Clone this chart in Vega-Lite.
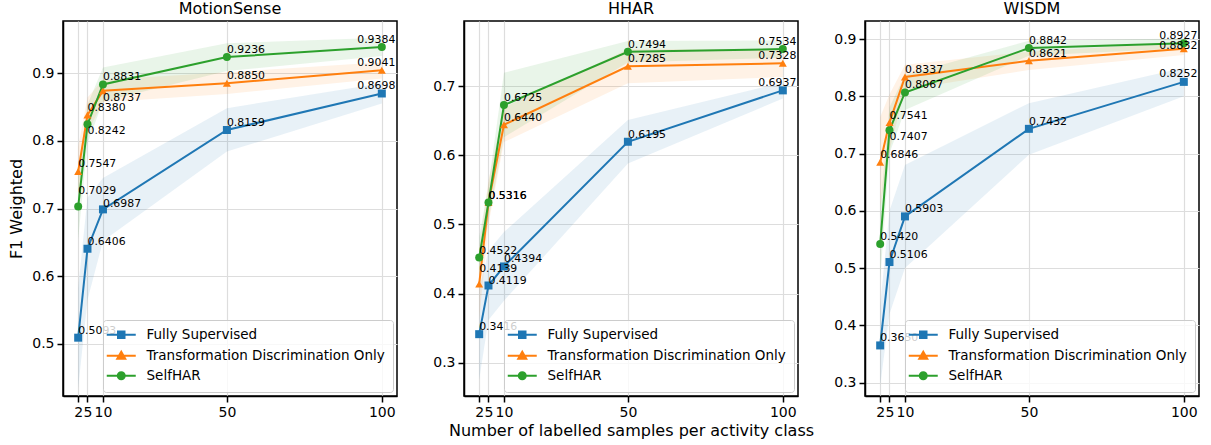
{
  "$schema": "https://vega.github.io/schema/vega-lite/v6.json",
  "padding": {"left": 7, "top": 0, "right": 5, "bottom": 5},
  "background": "white",
  "config": {
    "font": "DejaVu Sans",
    "view": {"stroke": "black", "strokeWidth": 1.5},
    "axis": {"labelFont": "DejaVu Sans", "labelFontSize": 14, "labelColor": "black", "titleFont": "DejaVu Sans", "titleFontSize": 16, "titleFontWeight": "normal", "titleColor": "black", "domainColor": "black", "domainWidth": 1.5, "tickColor": "black", "tickWidth": 1.5, "tickSize": 6, "labelPadding": 3, "gridColor": "#dddddd", "gridWidth": 1.2, "titlePadding": 7},
    "axisX": {"titlePadding": 3},
    "title": {"font": "DejaVu Sans", "fontSize": 16, "fontWeight": "normal", "color": "black", "offset": 4},
    "legend": {"orient": "bottom-right", "offset": 4, "padding": 8, "fillColor": "rgba(255,255,255,0.8)", "strokeColor": "#cccccc", "cornerRadius": 3, "labelFontSize": 13.5, "labelFont": "DejaVu Sans", "labelColor": "black", "labelOffset": 18.5, "symbolOffset": 3.5, "symbolSize": 100, "symbolStrokeWidth": 2, "rowPadding": 5, "labelLimit": 400}
  },
  "data": {"values": [
    {"ds":"MotionSense","series":"Fully Supervised","x":2,"y":0.5093,"lo":0.435,"hi":0.583},
    {"ds":"MotionSense","series":"Fully Supervised","x":5,"y":0.6406,"lo":0.565,"hi":0.716},
    {"ds":"MotionSense","series":"Fully Supervised","x":10,"y":0.6987,"lo":0.652,"hi":0.745},
    {"ds":"MotionSense","series":"Fully Supervised","x":50,"y":0.8159,"lo":0.784,"hi":0.848},
    {"ds":"MotionSense","series":"Fully Supervised","x":100,"y":0.8698,"lo":0.855,"hi":0.885},
    {"ds":"MotionSense","series":"Transformation Discrimination Only","x":2,"y":0.7547,"lo":0.718,"hi":0.791},
    {"ds":"MotionSense","series":"Transformation Discrimination Only","x":5,"y":0.8380,"lo":0.812,"hi":0.864},
    {"ds":"MotionSense","series":"Transformation Discrimination Only","x":10,"y":0.8737,"lo":0.857,"hi":0.890},
    {"ds":"MotionSense","series":"Transformation Discrimination Only","x":50,"y":0.8850,"lo":0.869,"hi":0.901},
    {"ds":"MotionSense","series":"Transformation Discrimination Only","x":100,"y":0.9041,"lo":0.892,"hi":0.916},
    {"ds":"MotionSense","series":"SelfHAR","x":2,"y":0.7029,"lo":0.655,"hi":0.751},
    {"ds":"MotionSense","series":"SelfHAR","x":5,"y":0.8242,"lo":0.796,"hi":0.853},
    {"ds":"MotionSense","series":"SelfHAR","x":10,"y":0.8831,"lo":0.858,"hi":0.908},
    {"ds":"MotionSense","series":"SelfHAR","x":50,"y":0.9236,"lo":0.903,"hi":0.944},
    {"ds":"MotionSense","series":"SelfHAR","x":100,"y":0.9384,"lo":0.925,"hi":0.952},
    {"ds":"HHAR","series":"Fully Supervised","x":2,"y":0.3416,"lo":0.276,"hi":0.407},
    {"ds":"HHAR","series":"Fully Supervised","x":5,"y":0.4119,"lo":0.362,"hi":0.462},
    {"ds":"HHAR","series":"Fully Supervised","x":10,"y":0.4394,"lo":0.390,"hi":0.489},
    {"ds":"HHAR","series":"Fully Supervised","x":50,"y":0.6195,"lo":0.588,"hi":0.651},
    {"ds":"HHAR","series":"Fully Supervised","x":100,"y":0.6937,"lo":0.682,"hi":0.705},
    {"ds":"HHAR","series":"Transformation Discrimination Only","x":2,"y":0.4139,"lo":0.362,"hi":0.466},
    {"ds":"HHAR","series":"Transformation Discrimination Only","x":5,"y":0.5316,"lo":0.500,"hi":0.563},
    {"ds":"HHAR","series":"Transformation Discrimination Only","x":10,"y":0.6440,"lo":0.619,"hi":0.669},
    {"ds":"HHAR","series":"Transformation Discrimination Only","x":50,"y":0.7285,"lo":0.704,"hi":0.753},
    {"ds":"HHAR","series":"Transformation Discrimination Only","x":100,"y":0.7328,"lo":0.713,"hi":0.753},
    {"ds":"HHAR","series":"SelfHAR","x":2,"y":0.4522,"lo":0.422,"hi":0.482},
    {"ds":"HHAR","series":"SelfHAR","x":5,"y":0.5316,"lo":0.506,"hi":0.557},
    {"ds":"HHAR","series":"SelfHAR","x":10,"y":0.6725,"lo":0.626,"hi":0.719},
    {"ds":"HHAR","series":"SelfHAR","x":50,"y":0.7494,"lo":0.734,"hi":0.765},
    {"ds":"HHAR","series":"SelfHAR","x":100,"y":0.7534,"lo":0.741,"hi":0.766},
    {"ds":"WISDM","series":"Fully Supervised","x":2,"y":0.3650,"lo":0.295,"hi":0.435},
    {"ds":"WISDM","series":"Fully Supervised","x":5,"y":0.5106,"lo":0.420,"hi":0.600},
    {"ds":"WISDM","series":"Fully Supervised","x":10,"y":0.5903,"lo":0.500,"hi":0.680},
    {"ds":"WISDM","series":"Fully Supervised","x":50,"y":0.7432,"lo":0.698,"hi":0.788},
    {"ds":"WISDM","series":"Fully Supervised","x":100,"y":0.8252,"lo":0.800,"hi":0.850},
    {"ds":"WISDM","series":"Transformation Discrimination Only","x":2,"y":0.6846,"lo":0.605,"hi":0.764},
    {"ds":"WISDM","series":"Transformation Discrimination Only","x":5,"y":0.7541,"lo":0.705,"hi":0.803},
    {"ds":"WISDM","series":"Transformation Discrimination Only","x":10,"y":0.8337,"lo":0.812,"hi":0.855},
    {"ds":"WISDM","series":"Transformation Discrimination Only","x":50,"y":0.8621,"lo":0.846,"hi":0.878},
    {"ds":"WISDM","series":"Transformation Discrimination Only","x":100,"y":0.8832,"lo":0.872,"hi":0.894},
    {"ds":"WISDM","series":"SelfHAR","x":2,"y":0.5420,"lo":0.480,"hi":0.604},
    {"ds":"WISDM","series":"SelfHAR","x":5,"y":0.7407,"lo":0.700,"hi":0.781},
    {"ds":"WISDM","series":"SelfHAR","x":10,"y":0.8067,"lo":0.776,"hi":0.837},
    {"ds":"WISDM","series":"SelfHAR","x":50,"y":0.8842,"lo":0.871,"hi":0.897},
    {"ds":"WISDM","series":"SelfHAR","x":100,"y":0.8927,"lo":0.884,"hi":0.901}
  ]},
  "bounds": "flush",
  "spacing": 67,
  "resolve": {"scale": {"x": "independent", "y": "independent", "fill": "independent", "stroke": "independent", "shape": "independent"}, "legend": {"stroke": "independent"}},
  "hconcat": [
    {
      "width": 334, "height": 375,
      "title": "MotionSense",
      "transform": [{"filter": "datum.ds === 'MotionSense'"}],
      "encoding": {
        "x": {"field": "x", "type": "quantitative", "scale": {"domain": [-2.9, 104.9], "nice": false, "zero": false}, "axis": {"values": [2, 5, 10, 50, 100], "title": null, "labelOverlap": false, "labelFlush": false, "grid": true}},
        "y": {"field": "y", "type": "quantitative", "scale": {"domain": [0.4232, 0.9768], "nice": false, "zero": false}, "axis": {"values": [0.5, 0.6, 0.7, 0.8, 0.9], "format": ".1f", "title": "F1 Weighted", "grid": true}}
      },
      "layer": [
        {"mark": {"type": "area", "opacity": 0.1, "clip": true},
         "encoding": {
           "y": {"field": "lo", "type": "quantitative", "axis": {"values": [0.5, 0.6, 0.7, 0.8, 0.9], "format": ".1f", "title": "F1 Weighted", "grid": true}},
           "y2": {"field": "hi"},
           "fill": {"field": "series", "type": "nominal", "scale": {"domain": ["SelfHAR", "Fully Supervised", "Transformation Discrimination Only"], "range": ["#2ca02c", "#1f77b4", "#ff7f0e"]}, "legend": null}
         }},
        {"mark": {"type": "line", "strokeWidth": 2},
         "encoding": {
           "stroke": {"field": "series", "type": "nominal", "scale": {"domain": ["Fully Supervised", "Transformation Discrimination Only", "SelfHAR"], "range": ["#1f77b4", "#ff7f0e", "#2ca02c"]}, "legend": {"title": null, "encode": {"symbols": {"update": {"shape": {"signal": "datum.value === 'Fully Supervised' ? 'M-2.9,0H2.9M-0.65,-0.65H0.65V0.65H-0.65Z' : datum.value === 'SelfHAR' ? 'M-2.9,0H2.9M0.7,0A0.7,0.7,0,1,1,-0.7,0A0.7,0.7,0,1,1,0.7,0Z' : 'M-2.9,0H2.9M0,-0.8L0.8,0.6H-0.8Z'"}, "fill": {"signal": "datum.value === 'Fully Supervised' ? '#1f77b4' : datum.value === 'SelfHAR' ? '#2ca02c' : '#ff7f0e'"}, "stroke": {"signal": "datum.value === 'Fully Supervised' ? '#1f77b4' : datum.value === 'SelfHAR' ? '#2ca02c' : '#ff7f0e'"}, "opacity": {"value": 1}, "strokeWidth": {"value": 2}}}}}}
         }},
        {"mark": {"type": "point", "filled": true, "size": 64, "opacity": 1},
         "encoding": {
           "fill": {"field": "series", "type": "nominal", "legend": null},
           "shape": {"field": "series", "type": "nominal", "scale": {"domain": ["Transformation Discrimination Only", "SelfHAR", "Fully Supervised"], "range": ["triangle-up", "circle", "square"]}, "legend": null}
         }},
        {"transform": [{"filter": "datum.x < 100"}],
         "mark": {"type": "text", "align": "left", "baseline": "alphabetic", "fontSize": 10.9, "color": "black",
                  "dy": {"expr": "(datum.ds === 'HHAR' && datum.x === 2 && datum.series === 'Transformation Discrimination Only') ? -12 : (datum.ds === 'MotionSense' && datum.x === 2 && datum.series === 'SelfHAR') ? -13 : (datum.ds === 'HHAR' && datum.x === 5 && datum.series === 'Fully Supervised') ? -1 : (datum.ds === 'MotionSense' && datum.x === 10 && datum.series === 'Fully Supervised') ? -2 : ((datum.ds === 'MotionSense' && datum.x === 10 && datum.series === 'Transformation Discrimination Only') || (datum.ds !== 'HHAR' && datum.x === 5 && datum.series === 'SelfHAR')) ? 10 : -4"}},
         "encoding": {"text": {"field": "y", "type": "quantitative", "format": ".4f"}}},
        {"transform": [{"filter": "datum.x === 100"}],
         "mark": {"type": "text", "align": "right", "baseline": "alphabetic", "fontSize": 10.9, "color": "black", "dx": 13.5,
                  "dy": {"expr": "(datum.ds === 'WISDM' && datum.series === 'Transformation Discrimination Only') ? 0 : -4.5"}},
         "encoding": {"text": {"field": "y", "type": "quantitative", "format": ".4f"}}}
      ]
    },
    {
      "width": 334, "height": 375,
      "title": "HHAR",
      "transform": [{"filter": "datum.ds === 'HHAR'"}],
      "encoding": {
        "x": {"field": "x", "type": "quantitative", "scale": {"domain": [-2.9, 104.9], "nice": false, "zero": false}, "axis": {"values": [2, 5, 10, 50, 100], "title": "Number of labelled samples per activity class", "labelOverlap": false, "labelFlush": false, "grid": true}},
        "y": {"field": "y", "type": "quantitative", "scale": {"domain": [0.2523, 0.7939], "nice": false, "zero": false}, "axis": {"values": [0.3, 0.4, 0.5, 0.6, 0.7], "format": ".1f", "title": null, "grid": true}}
      },
      "layer": [
        {"mark": {"type": "area", "opacity": 0.1, "clip": true},
         "encoding": {
           "y": {"field": "lo", "type": "quantitative", "axis": {"values": [0.3, 0.4, 0.5, 0.6, 0.7], "format": ".1f", "title": null, "grid": true}},
           "y2": {"field": "hi"},
           "fill": {"field": "series", "type": "nominal", "scale": {"domain": ["SelfHAR", "Fully Supervised", "Transformation Discrimination Only"], "range": ["#2ca02c", "#1f77b4", "#ff7f0e"]}, "legend": null}
         }},
        {"mark": {"type": "line", "strokeWidth": 2},
         "encoding": {
           "stroke": {"field": "series", "type": "nominal", "scale": {"domain": ["Fully Supervised", "Transformation Discrimination Only", "SelfHAR"], "range": ["#1f77b4", "#ff7f0e", "#2ca02c"]}, "legend": {"title": null, "encode": {"symbols": {"update": {"shape": {"signal": "datum.value === 'Fully Supervised' ? 'M-2.9,0H2.9M-0.65,-0.65H0.65V0.65H-0.65Z' : datum.value === 'SelfHAR' ? 'M-2.9,0H2.9M0.7,0A0.7,0.7,0,1,1,-0.7,0A0.7,0.7,0,1,1,0.7,0Z' : 'M-2.9,0H2.9M0,-0.8L0.8,0.6H-0.8Z'"}, "fill": {"signal": "datum.value === 'Fully Supervised' ? '#1f77b4' : datum.value === 'SelfHAR' ? '#2ca02c' : '#ff7f0e'"}, "stroke": {"signal": "datum.value === 'Fully Supervised' ? '#1f77b4' : datum.value === 'SelfHAR' ? '#2ca02c' : '#ff7f0e'"}, "opacity": {"value": 1}, "strokeWidth": {"value": 2}}}}}}
         }},
        {"mark": {"type": "point", "filled": true, "size": 64, "opacity": 1},
         "encoding": {
           "fill": {"field": "series", "type": "nominal", "legend": null},
           "shape": {"field": "series", "type": "nominal", "scale": {"domain": ["Transformation Discrimination Only", "SelfHAR", "Fully Supervised"], "range": ["triangle-up", "circle", "square"]}, "legend": null}
         }},
        {"transform": [{"filter": "datum.x < 100"}],
         "mark": {"type": "text", "align": "left", "baseline": "alphabetic", "fontSize": 10.9, "color": "black",
                  "dy": {"expr": "(datum.ds === 'HHAR' && datum.x === 2 && datum.series === 'Transformation Discrimination Only') ? -12 : (datum.ds === 'MotionSense' && datum.x === 2 && datum.series === 'SelfHAR') ? -13 : (datum.ds === 'HHAR' && datum.x === 5 && datum.series === 'Fully Supervised') ? -1 : (datum.ds === 'MotionSense' && datum.x === 10 && datum.series === 'Fully Supervised') ? -2 : ((datum.ds === 'MotionSense' && datum.x === 10 && datum.series === 'Transformation Discrimination Only') || (datum.ds !== 'HHAR' && datum.x === 5 && datum.series === 'SelfHAR')) ? 10 : -4"}},
         "encoding": {"text": {"field": "y", "type": "quantitative", "format": ".4f"}}},
        {"transform": [{"filter": "datum.x === 100"}],
         "mark": {"type": "text", "align": "right", "baseline": "alphabetic", "fontSize": 10.9, "color": "black", "dx": 13.5,
                  "dy": {"expr": "(datum.ds === 'WISDM' && datum.series === 'Transformation Discrimination Only') ? 0 : -4.5"}},
         "encoding": {"text": {"field": "y", "type": "quantitative", "format": ".4f"}}}
      ]
    },
    {
      "width": 334, "height": 375,
      "title": "WISDM",
      "transform": [{"filter": "datum.ds === 'WISDM'"}],
      "encoding": {
        "x": {"field": "x", "type": "quantitative", "scale": {"domain": [-2.9, 104.9], "nice": false, "zero": false}, "axis": {"values": [2, 5, 10, 50, 100], "title": null, "labelOverlap": false, "labelFlush": false, "grid": true}},
        "y": {"field": "y", "type": "quantitative", "scale": {"domain": [0.2767, 0.9315], "nice": false, "zero": false}, "axis": {"values": [0.3, 0.4, 0.5, 0.6, 0.7, 0.8, 0.9], "format": ".1f", "title": null, "grid": true}}
      },
      "layer": [
        {"mark": {"type": "area", "opacity": 0.1, "clip": true},
         "encoding": {
           "y": {"field": "lo", "type": "quantitative", "axis": {"values": [0.3, 0.4, 0.5, 0.6, 0.7, 0.8, 0.9], "format": ".1f", "title": null, "grid": true}},
           "y2": {"field": "hi"},
           "fill": {"field": "series", "type": "nominal", "scale": {"domain": ["SelfHAR", "Fully Supervised", "Transformation Discrimination Only"], "range": ["#2ca02c", "#1f77b4", "#ff7f0e"]}, "legend": null}
         }},
        {"mark": {"type": "line", "strokeWidth": 2},
         "encoding": {
           "stroke": {"field": "series", "type": "nominal", "scale": {"domain": ["Fully Supervised", "Transformation Discrimination Only", "SelfHAR"], "range": ["#1f77b4", "#ff7f0e", "#2ca02c"]}, "legend": {"title": null, "encode": {"symbols": {"update": {"shape": {"signal": "datum.value === 'Fully Supervised' ? 'M-2.9,0H2.9M-0.65,-0.65H0.65V0.65H-0.65Z' : datum.value === 'SelfHAR' ? 'M-2.9,0H2.9M0.7,0A0.7,0.7,0,1,1,-0.7,0A0.7,0.7,0,1,1,0.7,0Z' : 'M-2.9,0H2.9M0,-0.8L0.8,0.6H-0.8Z'"}, "fill": {"signal": "datum.value === 'Fully Supervised' ? '#1f77b4' : datum.value === 'SelfHAR' ? '#2ca02c' : '#ff7f0e'"}, "stroke": {"signal": "datum.value === 'Fully Supervised' ? '#1f77b4' : datum.value === 'SelfHAR' ? '#2ca02c' : '#ff7f0e'"}, "opacity": {"value": 1}, "strokeWidth": {"value": 2}}}}}}
         }},
        {"mark": {"type": "point", "filled": true, "size": 64, "opacity": 1},
         "encoding": {
           "fill": {"field": "series", "type": "nominal", "legend": null},
           "shape": {"field": "series", "type": "nominal", "scale": {"domain": ["Transformation Discrimination Only", "SelfHAR", "Fully Supervised"], "range": ["triangle-up", "circle", "square"]}, "legend": null}
         }},
        {"transform": [{"filter": "datum.x < 100"}],
         "mark": {"type": "text", "align": "left", "baseline": "alphabetic", "fontSize": 10.9, "color": "black",
                  "dy": {"expr": "(datum.ds === 'HHAR' && datum.x === 2 && datum.series === 'Transformation Discrimination Only') ? -12 : (datum.ds === 'MotionSense' && datum.x === 2 && datum.series === 'SelfHAR') ? -13 : (datum.ds === 'HHAR' && datum.x === 5 && datum.series === 'Fully Supervised') ? -1 : (datum.ds === 'MotionSense' && datum.x === 10 && datum.series === 'Fully Supervised') ? -2 : ((datum.ds === 'MotionSense' && datum.x === 10 && datum.series === 'Transformation Discrimination Only') || (datum.ds !== 'HHAR' && datum.x === 5 && datum.series === 'SelfHAR')) ? 10 : -4"}},
         "encoding": {"text": {"field": "y", "type": "quantitative", "format": ".4f"}}},
        {"transform": [{"filter": "datum.x === 100"}],
         "mark": {"type": "text", "align": "right", "baseline": "alphabetic", "fontSize": 10.9, "color": "black", "dx": 13.5,
                  "dy": {"expr": "(datum.ds === 'WISDM' && datum.series === 'Transformation Discrimination Only') ? 0 : -4.5"}},
         "encoding": {"text": {"field": "y", "type": "quantitative", "format": ".4f"}}}
      ]
    }
  ]
}
